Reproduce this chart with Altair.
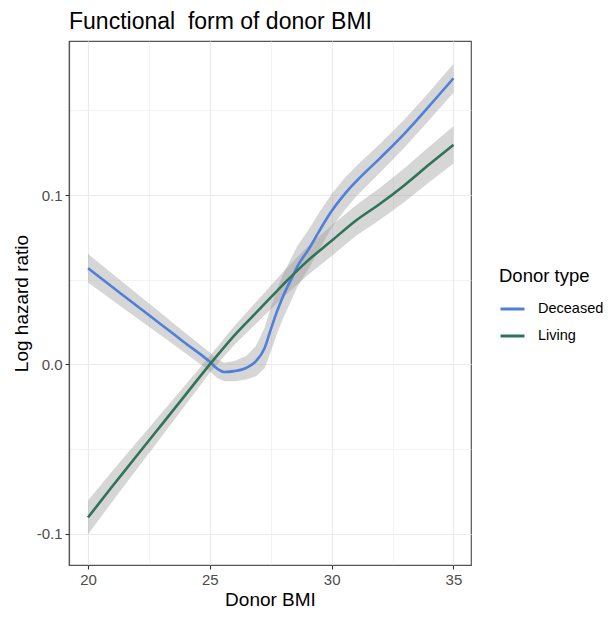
import altair as alt
import pandas as pd

# ---- data ----
dec_x = [20, 21, 22, 23, 24, 25, 25.3, 25.6, 26, 26.5, 26.9, 27.25, 27.5, 27.75, 28, 28.4, 28.6, 29.1, 29.5, 30, 30.5, 31, 32, 33, 34, 35]
dec_fit = [0.0568, 0.0457, 0.0346, 0.0236, 0.0125, 0.0015, -0.0025, -0.0045, -0.0040, -0.0020, 0.0020, 0.0097, 0.0205, 0.0310, 0.0400, 0.0520, 0.0580, 0.0690, 0.0790, 0.0906, 0.1000, 0.1080, 0.1220, 0.1365, 0.1525, 0.1690]
dec_hw = [0.0085, 0.0078, 0.0072, 0.0066, 0.0060, 0.0055, 0.0055, 0.0055, 0.0060, 0.0070, 0.0090, 0.0120, 0.0130, 0.0130, 0.0130, 0.0125, 0.0120, 0.0115, 0.0110, 0.0100, 0.0095, 0.0090, 0.0085, 0.0083, 0.0083, 0.0085]

liv_x = [20, 21, 22, 23, 24, 25, 26, 27, 28, 29, 30, 31, 32, 33, 34, 35]
liv_fit = [-0.0904, -0.0720, -0.0540, -0.0360, -0.0180, 0.0000, 0.0170, 0.0320, 0.0470, 0.0610, 0.0730, 0.0850, 0.0950, 0.1060, 0.1180, 0.1297]
liv_hw = [0.0100, 0.0090, 0.0080, 0.0070, 0.0060, 0.0050, 0.0055, 0.0065, 0.0075, 0.0085, 0.0090, 0.0090, 0.0095, 0.0100, 0.0105, 0.0110]

groups = ["Deceased", "Living"]
colors = ["#4f7fd9", "#2f7358"]

x_ticks = [20, 22.5, 25, 27.5, 30, 32.5, 35]
y_ticks = [-0.1, -0.05, 0.0, 0.05, 0.1, 0.15]

rows = []
for g, xs_, fs, hs in [("Deceased", dec_x, dec_fit, dec_hw), ("Living", liv_x, liv_fit, liv_hw)]:
    for xv, fv, hv in zip(xs_, fs, hs):
        rows.append({"bmi": xv, "fit": fv, "lo": fv - hv, "hi": fv + hv, "type": g})
df = pd.DataFrame(rows)

FONT = "Liberation Sans"
BORDER = "#555555"

x_minor_test = "datum.value % 5 != 0"
y_minor_test = "round(datum.value * 100) % 10 != 0"

x_axis = alt.Axis(
    values=x_ticks,
    labelExpr="datum.value % 5 != 0 ? '' : format(datum.value, 'd')",
    title="Donor BMI",
    grid=True,
    gridColor="#ebebeb",
    gridWidth={"condition": {"test": x_minor_test, "value": 0.6}, "value": 1.2},
    tickColor={"condition": {"test": x_minor_test, "value": "transparent"}, "value": "#333333"},
    tickSize=4,
    tickWidth=1.1,
    domain=True, domainColor=BORDER, domainWidth=1.2,
    labelFont=FONT, labelFontSize=15, labelColor="#4d4d4d", labelPadding=3,
    titleFont=FONT, titleFontSize=19, titleFontWeight="normal", titleColor="#000000", titlePadding=3,
)
y_axis = alt.Axis(
    values=y_ticks,
    labelExpr="round(datum.value * 100) % 10 != 0 ? '' : replace(format(datum.value, '.1f'), '\u2212', '-')",
    title="Log hazard ratio",
    grid=True,
    gridColor="#ebebeb",
    gridWidth={"condition": {"test": y_minor_test, "value": 0.6}, "value": 1.2},
    tickColor={"condition": {"test": y_minor_test, "value": "transparent"}, "value": "#333333"},
    tickSize=4,
    tickWidth=1.1,
    domain=True, domainColor=BORDER, domainWidth=1.2,
    labelFont=FONT, labelFontSize=15, labelColor="#4d4d4d", labelPadding=3,
    titleFont=FONT, titleFontSize=19, titleFontWeight="normal", titleColor="#000000", titlePadding=5,
)

xs = alt.Scale(domain=[19.22, 35.72], nice=False, zero=False)
ys = alt.Scale(domain=[-0.1185, 0.191], nice=False, zero=False)

base = alt.Chart(df)

bands = base.mark_area(fill="#999999", fillOpacity=0.4, orient="vertical").encode(
    x=alt.X("bmi:Q", scale=xs, axis=x_axis),
    y=alt.Y("lo:Q", scale=ys, axis=y_axis),
    y2=alt.Y2("hi:Q"),
    detail=alt.Detail("type:N"),
)

lines = base.mark_line(strokeWidth=2.6, interpolate="monotone").encode(
    x=alt.X("bmi:Q", scale=xs),
    y=alt.Y("fit:Q", scale=ys),
    color=alt.Color(
        "type:N",
        scale=alt.Scale(domain=groups, range=colors),
        legend=alt.Legend(
            title="Donor type",
            orient="none",
            legendX=430,
            legendY=226,
            symbolType="stroke",
            symbolSize=576,
            symbolStrokeWidth=3,
            labelFont=FONT, labelFontSize=14.5, labelColor="#000000", labelOffset=12,
            titleFont=FONT, titleFontSize=18.5, titleFontWeight="normal", titleColor="#000000",
            titlePadding=10, rowPadding=7,
        ),
    ),
    order="bmi:Q",
)

chart = (
    alt.layer(bands, lines)
    .properties(
        width=402,
        height=524,
        padding={"left": 61, "top": 33, "right": 134, "bottom": 46},
        autosize=alt.AutoSizeParams(type="none"),
        title=alt.TitleParams(
            "Functional\u00a0 form of donor BMI",
            anchor="start",
            frame="group",
            font=FONT,
            fontSize=23,
            fontWeight="normal",
            color="#000000",
            offset=7,
        ),
    )
    .configure(background="white")
    .configure_view(stroke=BORDER, strokeWidth=1.2)
)

chart.save("out.html", embed_options={"renderer": "svg", "actions": False})
